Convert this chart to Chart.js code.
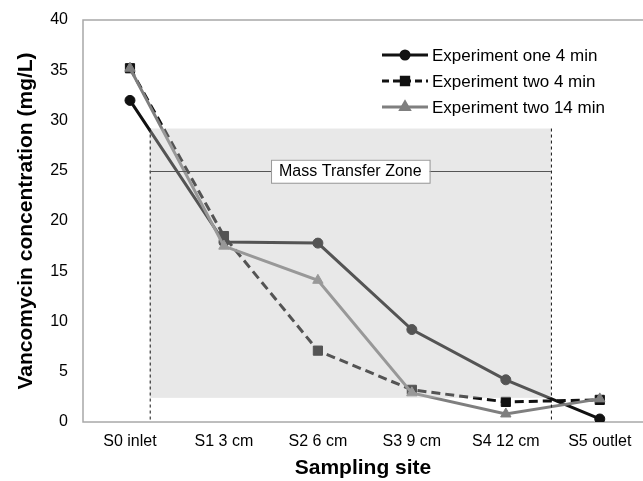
<!DOCTYPE html>
<html>
<head>
<meta charset="utf-8">
<script src="https://cdn.jsdelivr.net/npm/chart.js@4.4.0/dist/chart.umd.min.js"></script>
<style>
  html, body { margin: 0; padding: 0; background: #fff; overflow: hidden; }
</style>
</head>
<body>
<canvas id="myChart" width="643" height="481"></canvas>
<script>
// data
const sites = ['S0 inlet', 'S1 3 cm', 'S2 6 cm', 'S3 9 cm', 'S4 12 cm', 'S5 outlet'];
const expOne4 = [32.0, 17.9, 17.8, 9.2, 4.2, 0.3];
const expTwo4 = [35.2, 18.5, 7.1, 3.2, 2.0, 2.2];
const expTwo14 = [35.2, 17.5, 14.1, 2.9, 0.8, 2.3];
const yTicks = [0, 5, 10, 15, 20, 25, 30, 35, 40];

// mass transfer zone, in axis units
const zoneX = [0.21, 4.48];
const zoneY = [2.4, 29.2];
const zoneLineY = 25;
const zoneLabel = 'Mass Transfer Zone';

const FONT = 'Liberation Sans, Arial, sans-serif';

function toPoints(values) {
  return values.map((v, i) => ({ x: i, y: v }));
}

const series = [
  { label: 'Experiment one 4 min', data: expOne4, color: '#111', style: 'circle', radius: 5, dash: [] },
  { label: 'Experiment two 4 min', data: expTwo4, color: '#111', style: 'rect', radius: 6.5, dash: [9, 5] },
  { label: 'Experiment two 14 min', data: expTwo14, color: '#7f7f7f', style: 'triangle', radius: 6, dash: [] }
];

const zonePlugin = {
  id: 'zone',
  beforeDatasetsDraw(chart) {
    const { ctx, chartArea: a } = chart;
    ctx.save();
    ctx.strokeStyle = '#a8a8a8';
    ctx.lineWidth = 1.5;
    ctx.strokeRect(a.left, a.top, chart.width + 5 - a.left, a.bottom - a.top);
    ctx.restore();
  },
  afterDatasetsDraw(chart) {
    const { ctx, chartArea: a, scales: { x, y } } = chart;
    const x0 = x.getPixelForValue(zoneX[0]);
    const x1 = x.getPixelForValue(zoneX[1]);
    const yTop = y.getPixelForValue(zoneY[1]);
    const yBot = y.getPixelForValue(zoneY[0]);
    const yLine = y.getPixelForValue(zoneLineY);
    ctx.save();
    // shaded overlay
    ctx.fillStyle = 'rgba(195,195,195,0.38)';
    ctx.fillRect(x0, yTop, x1 - x0, yBot - yTop);
    // dashed borders of the zone
    ctx.strokeStyle = '#111';
    ctx.lineWidth = 1;
    ctx.setLineDash([3, 3]);
    ctx.beginPath();
    ctx.moveTo(x0 + 0.5, yTop);
    ctx.lineTo(x0 + 0.5, a.bottom);
    ctx.moveTo(x1 + 0.5, yTop);
    ctx.lineTo(x1 + 0.5, a.bottom);
    ctx.stroke();
    ctx.setLineDash([]);
    // horizontal line with label
    ctx.strokeStyle = '#555';
    ctx.beginPath();
    ctx.moveTo(x0, Math.round(yLine) + 0.5);
    ctx.lineTo(x1, Math.round(yLine) + 0.5);
    ctx.stroke();
    ctx.font = '16px ' + FONT;
    const w = ctx.measureText(zoneLabel).width;
    const cx = (x0 + x1) / 2;
    ctx.fillStyle = '#fff';
    ctx.fillRect(cx - w / 2 - 8, yLine - 11, w + 16, 23);
    ctx.strokeStyle = '#999';
    ctx.strokeRect(cx - w / 2 - 8 + 0.5, yLine - 11 + 0.5, w + 16, 23);
    ctx.fillStyle = '#000';
    ctx.textAlign = 'center';
    ctx.textBaseline = 'middle';
    ctx.fillText(zoneLabel, cx, yLine + 1);
    ctx.restore();
  },
  afterDraw(chart) {
    // legend inside the plot, top right
    const { ctx } = chart;
    const lx0 = 382, lx1 = 428, tx = 432;
    const rows = [55, 81, 107];
    ctx.save();
    series.forEach((s, i) => {
      const yy = rows[i];
      ctx.strokeStyle = s.color;
      ctx.lineWidth = 3;
      ctx.setLineDash(s.dash.length ? [7, 4] : []);
      ctx.beginPath();
      ctx.moveTo(lx0, yy);
      ctx.lineTo(lx1, yy);
      ctx.stroke();
      ctx.setLineDash([]);
      Chart.helpers.drawPoint(ctx, { pointStyle: s.style, radius: s.radius * 0.8, borderWidth: 1 }, (lx0 + lx1) / 2, yy);
      ctx.fillStyle = s.color;
      ctx.fill();
      ctx.fillStyle = '#000';
      ctx.font = '17px ' + FONT;
      ctx.textAlign = 'left';
      ctx.textBaseline = 'middle';
      ctx.fillText(s.label, tx, yy + 1);
    });
    ctx.restore();
  }
};

function renderChart() {
  const ctx = document.getElementById('myChart').getContext('2d');
  new Chart(ctx, {
    type: 'line',
    data: {
      datasets: series.map((s, i) => ({
        label: s.label,
        data: toPoints(s.data),
        borderColor: s.color,
        backgroundColor: s.color,
        borderWidth: 3,
        borderDash: s.dash,
        pointStyle: s.style,
        pointRadius: s.radius,
        pointBorderWidth: 1,
        tension: 0,
        fill: false,
        order: 3 - i
      }))
    },
    options: {
      responsive: false,
      animation: false,
      devicePixelRatio: 1,
      layout: { autoPadding: false, padding: { top: 20, right: 0, left: 0, bottom: 0 } },
      plugins: {
        legend: { display: false },
        tooltip: { enabled: false }
      },
      scales: {
        x: {
          type: 'linear',
          min: -0.5,
          max: 5.46,
          grid: { display: false, drawTicks: false },
          border: { display: false },
          afterBuildTicks(scale) {
            scale.ticks = sites.map((s, i) => ({ value: i }));
          },
          afterFit(scale) {
            scale.height = 59;
            scale.paddingLeft = 0;
            scale.paddingRight = 0;
          },
          ticks: {
            color: '#000',
            padding: 10,
            maxRotation: 0,
            autoSkip: false,
            font: { family: FONT, size: 16 },
            callback: (v) => sites[v]
          },
          title: {
            display: true,
            text: 'Sampling site',
            color: '#000',
            padding: { top: 0, bottom: 0 },
            font: { family: FONT, size: 21, weight: 'bold' }
          }
        },
        y: {
          min: 0,
          max: 40,
          grid: { display: false, drawTicks: false },
          border: { display: false },
          afterBuildTicks(scale) {
            scale.ticks = yTicks.map(v => ({ value: v }));
          },
          afterFit(scale) {
            scale.width = 83;
            scale.paddingTop = 0;
            scale.paddingBottom = 0;
          },
          ticks: {
            color: '#000',
            padding: 15,
            font: { family: FONT, size: 16 }
          },
          title: {
            display: true,
            text: 'Vancomycin concentration (mg/L)',
            color: '#000',
            padding: { top: 14, bottom: 0 },
            font: { family: FONT, size: 21, weight: 'bold' }
          }
        }
      }
    },
    plugins: [zonePlugin]
  });
}

renderChart();
</script>
</body>
</html>
